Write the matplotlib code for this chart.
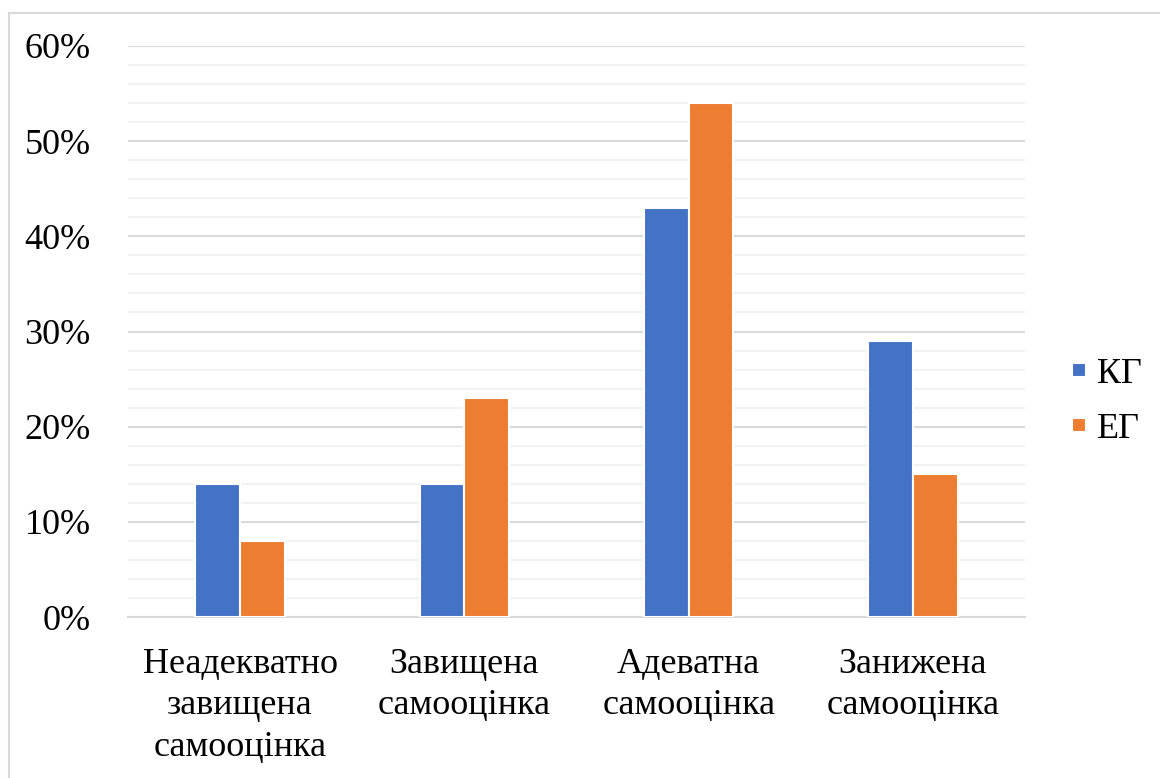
import matplotlib.pyplot as plt
from matplotlib.patches import Rectangle
from matplotlib.ticker import MultipleLocator, PercentFormatter
import numpy as np

categories = ["Неадекватно\nзавищена\nсамооцінка", "Завищена\nсамооцінка",
              "Адеватна\nсамооцінка", "Занижена\nсамооцінка"]
kg_values = [14, 14, 43, 29]
eg_values = [8, 23, 54, 15]
series_names = ["КГ", "ЕГ"]
colors = ["#4472C4", "#ED7D31"]

plt.rcParams['font.family'] = ['Liberation Serif', 'DejaVu Serif']

fig = plt.figure(figsize=(11.6, 7.78), dpi=100)
# plot area in pixels: x 128..1025, y 46..617
ax = fig.add_axes([128 / 1160, 1 - 617 / 778, 897 / 1160, 571 / 778])

# light border around the chart
fig.patches.append(Rectangle((9 / 1160, -0.01), 1.0, 1 - 13 / 778 + 0.01,
                             transform=fig.transFigure, fill=False,
                             edgecolor="#D9D9D9", linewidth=1.5))

x = np.arange(len(categories))
w = 0.2
ax.bar(x - w / 2, kg_values, w, color=colors[0], edgecolor="white",
       linewidth=1.5, label=series_names[0], zorder=3)
ax.bar(x + w / 2, eg_values, w, color=colors[1], edgecolor="white",
       linewidth=1.5, label=series_names[1], zorder=3)

ax.set_xlim(-0.5, len(categories) - 0.5)
ax.set_ylim(0, 60)
ax.yaxis.set_major_locator(MultipleLocator(10))
ax.yaxis.set_minor_locator(MultipleLocator(2))
ax.yaxis.set_major_formatter(PercentFormatter(decimals=0))
ax.grid(axis='y', which='major', color="#D9D9D9", linewidth=1.5, zorder=0)
ax.grid(axis='y', which='minor', color="#F2F2F2", linewidth=1.5, zorder=0)

ax.set_xticks(x)
ax.set_xticklabels(categories, fontsize=26, linespacing=1.35)
ax.tick_params(axis='y', labelsize=26, length=0, pad=27, which='both')
ax.tick_params(axis='x', length=0, pad=22)
for s in ["top", "right", "left"]:
    ax.spines[s].set_visible(False)
ax.spines["bottom"].set_color("#D9D9D9")
ax.spines["bottom"].set_linewidth(1.5)

fig.legend(*ax.get_legend_handles_labels(), loc="center left",
           bbox_to_anchor=(1072 / 1160, 1 - 402 / 778), borderaxespad=0,
           borderpad=0, frameon=False, fontsize=26, handlelength=0.4,
           handleheight=0.22, handletextpad=0.3, labelspacing=0.6)

fig.savefig("out.png", dpi=100)
